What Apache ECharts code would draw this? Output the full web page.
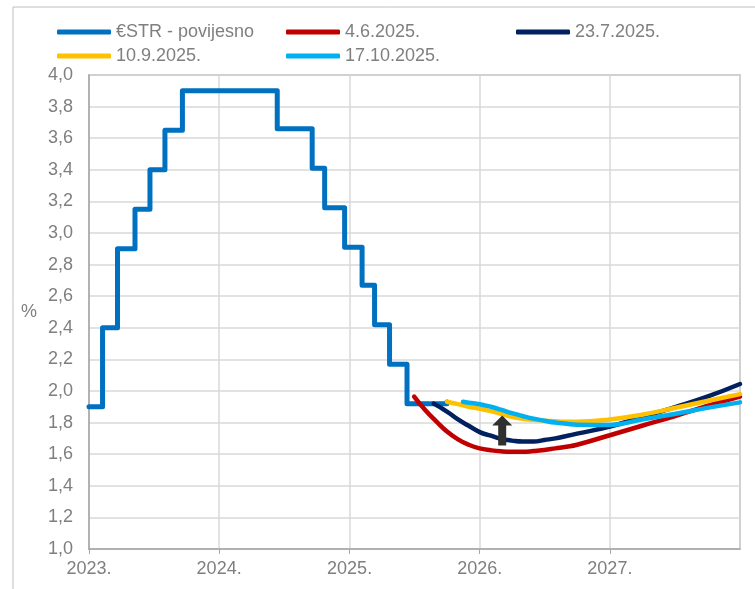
<!DOCTYPE html>
<html>
<head>
<meta charset="utf-8">
<script src="https://cdn.jsdelivr.net/npm/echarts@6/dist/echarts.min.js"></script>
<style>
  html, body { margin: 0; padding: 0; background: #fff; }
  #chart { width: 755px; height: 589px; }
</style>
</head>
<body>
<div id="chart"></div>
<script>
// €STR povijesno - datumi promjene i vrijednosti
const estrDates = ['2023-01-01', '2023-02-08', '2023-03-22', '2023-05-10', '2023-06-21', '2023-08-02', '2023-09-20',
  '2024-06-12', '2024-09-18', '2024-10-23', '2024-12-18', '2025-02-05', '2025-03-12', '2025-04-23', '2025-06-11', '2025-10-01'];
const estrValues = [1.90, 2.40, 2.90, 3.15, 3.40, 3.65, 3.90, 3.66, 3.41, 3.16, 2.91, 2.67, 2.42, 2.17, 1.92, 1.93];

// terminske krivulje
const curve0406 = [['2025-07-01', 1.965], ['2025-08-01', 1.88], ['2025-09-01', 1.808], ['2025-10-01', 1.744], ['2025-11-01', 1.694],
  ['2025-12-01', 1.66], ['2026-01-01', 1.637], ['2026-02-01', 1.625], ['2026-03-01', 1.618], ['2026-04-01', 1.615],
  ['2026-05-01', 1.615], ['2026-06-01', 1.62], ['2026-07-01', 1.627], ['2026-08-01', 1.637], ['2026-09-01', 1.647],
  ['2026-10-01', 1.66], ['2027-01-01', 1.72], ['2027-04-01', 1.78], ['2027-07-01', 1.84], ['2027-10-01', 1.905], ['2028-01-01', 1.965]];
const curve2307 = [['2025-08-25', 1.92], ['2025-10-01', 1.87], ['2025-11-01', 1.82], ['2025-12-01', 1.78], ['2026-01-01', 1.74],
  ['2026-02-01', 1.717], ['2026-03-01', 1.698], ['2026-04-01', 1.686], ['2026-05-01', 1.68], ['2026-06-01', 1.68],
  ['2026-07-01', 1.69], ['2026-08-01', 1.70], ['2026-09-01', 1.715], ['2026-10-01', 1.73], ['2027-01-01', 1.775],
  ['2027-04-01', 1.835], ['2027-07-01', 1.897], ['2027-10-01', 1.964], ['2028-01-01', 2.044]];
const curve1009 = [['2025-10-01', 1.932], ['2025-11-01', 1.917], ['2025-12-01', 1.90], ['2026-01-01', 1.888], ['2026-02-01', 1.873],
  ['2026-03-01', 1.856], ['2026-04-01', 1.837], ['2026-05-01', 1.825], ['2026-06-01', 1.818], ['2026-07-01', 1.812],
  ['2026-08-01', 1.808], ['2026-09-01', 1.806], ['2026-10-01', 1.806], ['2027-01-01', 1.82], ['2027-04-01', 1.85],
  ['2027-07-01', 1.892], ['2027-10-01', 1.937], ['2028-01-01', 1.98]];
const curve1710 = [['2025-11-15', 1.932], ['2025-12-01', 1.926], ['2026-01-01', 1.916], ['2026-02-01', 1.90], ['2026-03-01', 1.882],
  ['2026-04-01', 1.86], ['2026-05-01', 1.842], ['2026-06-01', 1.825], ['2026-07-01', 1.812], ['2026-08-01', 1.80],
  ['2026-09-01', 1.793], ['2026-10-01', 1.787], ['2027-01-01', 1.785], ['2027-04-01', 1.82], ['2027-07-01', 1.855],
  ['2027-10-01', 1.893], ['2028-01-01', 1.928]];

// strelica
const arrowPoint = ['2026-03-05', 1.75];

const names = ['€STR - povijesno', '4.6.2025.', '23.7.2025.', '10.9.2025.', '17.10.2025.'];
const colors = ['#0070C0', '#C00000', '#002060', '#FFC000', '#00B0F0'];

const chart = echarts.init(document.getElementById('chart'));
const grey = '#7f7f7f';
const font = 'Liberation Sans, Arial, sans-serif';

const legendBase = {
  orient: 'vertical',
  top: 23,
  padding: 0,
  itemWidth: 54,
  itemHeight: 5,
  itemGap: 6,
  icon: 'roundRect',
  textStyle: { color: grey, fontSize: 18, fontFamily: font }
};

function curve(i, data) {
  return {
    name: names[i], type: 'line', smooth: 0.5, showSymbol: false,
    lineStyle: { width: 4.5, color: colors[i], cap: 'round' },
    data: data
  };
}

const lastSeries = curve(4, curve1710);
lastSeries.markPoint = {
  symbol: 'path://M10,0 L20,10 L14,10 L14,30 L6,30 L6,10 L0,10 Z',
  symbolSize: [20, 30],
  itemStyle: { color: '#303030' },
  label: { show: false },
  data: [{ coord: arrowPoint }]
};

const option = {
  animation: false,
  color: colors,
  graphic: [{
    type: 'rect',
    shape: { x: 13, y: 7, width: 800, height: 700 },
    style: { fill: 'none', stroke: '#bfbfbf', lineWidth: 1 },
    silent: true
  }],
  legend: [
    Object.assign({}, legendBase, { left: 57, data: [names[0], names[3]] }),
    Object.assign({}, legendBase, { left: 286, data: [names[1], names[4]] }),
    Object.assign({}, legendBase, { left: 516, data: [names[2]] })
  ],
  grid: { left: 89, right: 15, top: 75, bottom: 40, show: true, borderColor: '#a6a6a6', borderWidth: 1.5 },
  xAxis: {
    type: 'time',
    min: '2023-01-01',
    max: '2028-01-01',
    minInterval: 365 * 24 * 3600 * 1000,
    maxInterval: 366 * 24 * 3600 * 1000,
    axisLine: { lineStyle: { color: '#a6a6a6', width: 1.5 } },
    axisTick: { show: true, length: 5, lineStyle: { color: '#a6a6a6' } },
    splitLine: { show: true, lineStyle: { color: '#d9d9d9', width: 1.5 } },
    axisLabel: {
      color: grey, fontSize: 18, fontFamily: font, margin: 11,
      showMaxLabel: false,
      formatter: function (v) { return new Date(v).getFullYear() + '.'; }
    }
  },
  yAxis: {
    type: 'value',
    min: 1,
    max: 4,
    interval: 0.2,
    name: '%',
    nameLocation: 'middle',
    nameRotate: 0,
    nameGap: 52,
    nameTextStyle: { color: grey, fontSize: 18, fontFamily: font },
    axisLine: { show: true, lineStyle: { color: '#a6a6a6', width: 1.5 } },
    axisTick: { show: false },
    splitLine: { lineStyle: { color: '#d9d9d9', width: 1.5 } },
    axisLabel: {
      color: grey, fontSize: 18, fontFamily: font, margin: 16,
      formatter: function (v) { return v.toFixed(1).replace('.', ','); }
    }
  },
  series: [
    {
      name: names[0], type: 'line', step: 'end', showSymbol: false,
      lineStyle: { width: 5, color: colors[0], join: 'round', cap: 'round' },
      data: estrDates.map((d, i) => [d, estrValues[i]])
    },
    curve(1, curve0406),
    curve(2, curve2307),
    curve(3, curve1009),
    lastSeries
  ]
};

chart.setOption(option);
</script>
</body>
</html>
